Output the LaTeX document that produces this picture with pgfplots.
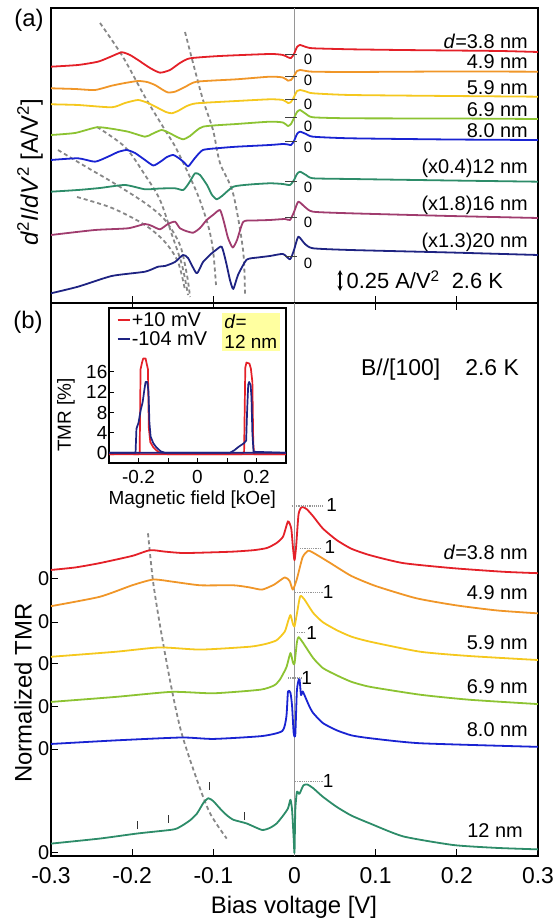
\documentclass[border=0pt]{standalone}
\usepackage{pgfplots}
\usepackage{pgfplotstable}
\pgfplotsset{compat=1.18}
\usepackage{fontspec}
\setmainfont{Liberation Sans}

\definecolor{cRed}{RGB}{228,32,40}
\definecolor{cOrange}{RGB}{240,150,40}
\definecolor{cYellow}{RGB}{245,200,30}
\definecolor{cLime}{RGB}{140,195,50}
\definecolor{cBlue}{RGB}{25,35,210}
\definecolor{cTeal}{RGB}{45,140,105}
\definecolor{cPurple}{RGB}{160,60,110}
\definecolor{cNavy}{RGB}{30,35,130}
\definecolor{cGuide}{RGB}{135,135,135}
\definecolor{cZero}{RGB}{150,150,150}
\definecolor{cBox}{RGB}{255,255,160}
\newcommand{\fs}[1]{\fontsize{#1}{#1}\selectfont}
\newcommand{\zmark}[2]{%
  \draw[black!75, line width=1bp] (axis cs:-0.0117,#1) -- (axis cs:0.0031,#1);
  \node[font=\fs{15}, inner sep=0pt] at (axis cs:0.0166,#2) {0};}
\newcommand{\onemark}[5]{%
  \draw[cZero, line width=1.2bp, densely dotted] (axis cs:#1,#3) -- (axis cs:#2,#3);
  \node[font=\fs{19}, inner sep=0pt] at (axis cs:#4,#5) {1};}
\newcommand{\pkmark}[3]{%
  \draw[black!80, line width=1.2bp] (axis cs:#1,#2) -- (axis cs:#1,#3);}

\pgfplotsset{
  panel/.style={
    scale only axis, width=487bp, xmin=-0.3, xmax=0.3,
    axis line style={line width=1.5bp},
    tick align=inside, major tick length=7bp,
    every tick/.append style={black, line width=1bp},
    clip mode=individual,
    every axis plot/.append style={line width=1.8bp, line join=round, smooth, tension=0.35},
  },
  guide/.style={cGuide, line width=1.8bp, dash pattern=on 4bp off 3bp, smooth, tension=0.5},
}

\begin{document}
% panel (b): normalized TMR, values relative to each curve's own zero
\pgfplotstableread{
x y
-0.3 0.125
-0.27 0.16
-0.24 0.22
-0.2 0.32
-0.178 0.40
-0.16 0.38
-0.137 0.36
-0.1 0.37
-0.075 0.38
-0.05 0.40
-0.034 0.43
-0.022 0.50
-0.014 0.59
-0.008 0.80
-0.004 0.70
-0.002 0.45
0 0.26
0.002 0.45
0.005 0.90
0.009 1.00
0.015 0.97
0.023 0.87
0.035 0.70
0.052 0.54
0.07 0.42
0.093 0.33
0.134 0.22
0.195 0.15
0.257 0.10
0.3 0.08
}\tbRed
\pgfplotstableread{
x y
-0.3 0.22
-0.24 0.35
-0.2 0.51
-0.174 0.59
-0.15 0.56
-0.116 0.51
-0.075 0.51
-0.055 0.48
-0.04 0.45
-0.025 0.52
-0.012 0.62
-0.006 0.57
-0.002 0.45
0.003 0.60
0.01 0.90
0.017 0.99
0.025 0.95
0.044 0.82
0.07 0.64
0.1 0.50
0.15 0.33
0.2 0.23
0.25 0.16
0.3 0.12
}\tbOrange
\pgfplotstableread{
x y
-0.3 0.10
-0.22 0.17
-0.166 0.23
-0.116 0.20
-0.055 0.24
-0.035 0.28
-0.022 0.33
-0.012 0.45
-0.008 0.59
-0.005 0.68
-0.002 0.56
0 0.52
0.003 0.70
0.007 0.94
0.012 0.90
0.023 0.71
0.035 0.58
0.052 0.47
0.07 0.38
0.093 0.31
0.155 0.17
0.216 0.11
0.3 0.055
}\tbYellow
\pgfplotstableread{
x y
-0.3 0.07
-0.22 0.14
-0.151 0.21
-0.1 0.19
-0.042 0.24
-0.025 0.30
-0.018 0.38
-0.01 0.55
-0.005 0.75
-0.002 0.62
0 0.60
0.003 0.90
0.005 0.97
0.01 0.90
0.023 0.68
0.035 0.54
0.052 0.44
0.07 0.35
0.093 0.28
0.155 0.17
0.216 0.10
0.3 0.04
}\tbLime
\pgfplotstableread{
x y
-0.3 0.07
-0.22 0.12
-0.139 0.16
-0.1 0.14
-0.04 0.18
-0.015 0.25
-0.01 0.45
-0.008 0.80
-0.005 0.78
-0.003 0.60
-0.001 0.22
0.001 0.20
0.003 0.82
0.006 0.98
0.008 0.75
0.01 0.80
0.013 0.73
0.018 0.60
0.023 0.50
0.035 0.36
0.052 0.26
0.07 0.19
0.093 0.15
0.155 0.08
0.3 0.03
}\tbBlue
\pgfplotstableread{
x y
-0.3 0.13
-0.24 0.20
-0.194 0.27
-0.153 0.32
-0.145 0.34
-0.137 0.39
-0.128 0.46
-0.12 0.55
-0.112 0.70
-0.106 0.76
-0.1 0.72
-0.092 0.62
-0.083 0.52
-0.075 0.46
-0.059 0.41
-0.04 0.32
-0.03 0.35
-0.022 0.41
-0.014 0.52
-0.008 0.62
-0.005 0.74
-0.003 0.60
-0.001 0.20
0 0.00
0.001 0.60
0.003 0.85
0.006 0.82
0.011 0.94
0.016 0.95
0.023 0.90
0.035 0.78
0.052 0.64
0.07 0.52
0.093 0.41
0.134 0.23
0.196 0.11
0.25 0.07
0.3 0.05
}\tbTeal

\begin{tikzpicture}
\path[use as bounding box] (0,0) rectangle (559bp,922bp);

% ---------------- panel (a) ----------------
\begin{axis}[panel, at={(51bp,619bp)}, anchor=south west, height=295bp,
  ymin=0, ymax=295, ytick=\empty,
  xtick={-0.2,-0.1,0.1,0.2}, xticklabels={}, xtick pos=left]
\draw[cZero, line width=1bp] (axis cs:0,0) -- (axis cs:0,295);

\addplot[guide] coordinates {(-0.2396,280)(-0.2113,246)(-0.1842,206)(-0.1596,173)(-0.1448,153)(-0.1201,110)(-0.1066,78)(-0.1004,53)(-0.0967,18)};
\addplot[guide] coordinates {(-0.1349,271)(-0.1250,240)(-0.1127,203)(-0.1004,173)(-0.0918,140)(-0.0758,110)(-0.0634,53)(-0.0610,8)};
\addplot[guide] coordinates {(-0.2433,176)(-0.2088,156)(-0.1842,128)(-0.1657,103)(-0.1509,68)(-0.1386,38)(-0.1312,8)};
\addplot[guide] coordinates {(-0.2914,153)(-0.2544,135)(-0.2248,121)(-0.1842,100)(-0.1596,83)(-0.1411,58)(-0.1325,28)(-0.1287,6)};
\addplot[guide] coordinates {(-0.2680,106)(-0.2248,95)(-0.1842,78)(-0.1596,61)(-0.1435,41)(-0.1349,13)};

\addplot[cRed] coordinates {(-0.3,236.3)(-0.2667,238)(-0.2421,241.3)(-0.2273,246)(-0.2129,250.7)(-0.2027,248)(-0.1928,243)(-0.1780,235)(-0.1657,230.3)(-0.1534,233)(-0.1411,240)(-0.1287,244.7)(-0.0917,247)(-0.0302,249)(-0.0142,248)(-0.0080,245.7)(-0.0043,245)(-0.0006,249)(0.0031,256)(0.0068,258)(0.0142,256)(0.0228,254.7)(0.0684,253.7)(0.1300,253)(0.1916,252.5)(0.2532,252)(0.3,251)};
\addplot[cOrange] coordinates {(-0.3,214.7)(-0.2704,214)(-0.2458,213)(-0.2252,217.3)(-0.2088,220)(-0.1928,222)(-0.1817,221)(-0.1719,218)(-0.1620,213)(-0.1558,210.5)(-0.1472,211.3)(-0.1349,216)(-0.1205,221.3)(-0.0712,223.7)(-0.0302,226.3)(-0.0142,225.5)(-0.0080,222.3)(-0.0043,223)(-0.0006,227)(0.0031,232)(0.0068,233)(0.0142,232)(0.0228,231.3)(0.0684,231)(0.1916,231.5)(0.3,231.3)};
\addplot[cYellow] coordinates {(-0.3,198.7)(-0.2667,198)(-0.2252,195.7)(-0.2088,200)(-0.1928,203)(-0.1805,200)(-0.1682,195)(-0.1584,191)(-0.1513,189.7)(-0.1436,192)(-0.1325,197)(-0.1205,199.7)(-0.0712,202)(-0.0302,203.7)(-0.0142,203)(-0.0080,200)(-0.0043,201)(-0.0006,206)(0.0031,212)(0.0068,213)(0.0142,211.5)(0.0228,209.7)(0.0684,208)(0.1916,207)(0.3,206.3)};
\addplot[cLime] coordinates {(-0.3,168)(-0.2704,170)(-0.2437,175.7)(-0.2273,174.5)(-0.2051,171.3)(-0.1842,166.3)(-0.1756,169)(-0.1637,173)(-0.1534,169.7)(-0.1448,166)(-0.1370,163.7)(-0.1287,167)(-0.1128,176.3)(-0.0712,179)(-0.0302,181.3)(-0.0142,180.5)(-0.0080,177)(-0.0043,179)(-0.0006,185)(0.0031,191)(0.0068,193)(0.0142,189)(0.0228,185.7)(0.0684,184.7)(0.1916,184.5)(0.3,184)};
\addplot[cBlue] coordinates {(-0.3,143)(-0.2667,144.7)(-0.2458,141.3)(-0.2298,146.3)(-0.2174,151)(-0.2068,153)(-0.1965,150)(-0.1842,143)(-0.1740,137.5)(-0.1657,141)(-0.1571,146)(-0.1493,148)(-0.1411,144)(-0.1349,139.7)(-0.1309,136.5)(-0.1226,145)(-0.1128,153)(-0.0917,155)(-0.0712,156.3)(-0.0302,158)(-0.0142,159)(-0.0080,158.5)(-0.0043,158)(-0.0006,162)(0.0031,169)(0.0068,171.3)(0.0142,169)(0.0228,166.3)(0.0684,164.7)(0.1916,163.5)(0.3,163)};
\addplot[cTeal] coordinates {(-0.3,111.3)(-0.2667,113)(-0.2396,115)(-0.2088,118)(-0.1842,113.7)(-0.1657,114.5)(-0.1472,114.7)(-0.1370,113)(-0.1300,120)(-0.1226,129.7)(-0.1164,128)(-0.1078,118)(-0.1016,108)(-0.0958,103.7)(-0.0893,107)(-0.0754,116.3)(-0.0548,118.5)(-0.0302,119.7)(-0.0142,119)(-0.0055,118)(-0.0006,123)(0.0031,129)(0.0068,131.3)(0.0142,128)(0.0228,124.7)(0.0684,124)(0.1916,122.5)(0.3,121.3)};
\addplot[cPurple] coordinates {(-0.3,68)(-0.2458,73)(-0.2051,74.7)(-0.1842,79)(-0.1756,77)(-0.1657,73.7)(-0.1559,79)(-0.1472,81.3)(-0.1411,74.7)(-0.1337,72)(-0.1247,70.3)(-0.1164,75)(-0.1082,83)(-0.1004,88)(-0.0918,93)(-0.0869,81)(-0.0819,65)(-0.0761,55.5)(-0.0708,63)(-0.0630,81.3)(-0.0487,82.5)(-0.0302,83)(-0.0117,84)(-0.0055,83)(-0.0006,91)(0.0047,101.3)(0.0129,96)(0.0228,91.3)(0.0684,89.7)(0.1916,87)(0.3,85)};
\addplot[cNavy] coordinates {(-0.3,9.7)(-0.2667,16.3)(-0.2252,27)(-0.1842,31.3)(-0.1682,36.3)(-0.1596,37)(-0.1472,41)(-0.1374,48)(-0.1312,45)(-0.1205,29.7)(-0.1127,41)(-0.1020,49.7)(-0.0967,53)(-0.0897,56.3)(-0.0844,41)(-0.0795,23)(-0.0754,14)(-0.0696,28)(-0.0589,43.3)(-0.0450,45.5)(-0.0302,47)(-0.0142,49)(-0.0055,43.7)(-0.0006,53)(0.0047,66.3)(0.0129,59)(0.0228,54.7)(0.0684,53)(0.1916,50.5)(0.3,48)};

% zero marks
\zmark{248}{243.7}
\zmark{226.5}{223}
\zmark{203.7}{198.7}
\zmark{185}{177}
\zmark{161.3}{155.3}
\zmark{121.3}{115.3}
\zmark{85}{80.3}
\zmark{46.3}{39.7}
% curve labels
\begin{scope}[every node/.style={font=\fs{20}, anchor=east, inner sep=0pt}]
\node at (axis cs:0.2877,261.3) {\textit{d}=3.8 nm};
\node at (axis cs:0.2877,241.3) {4.9 nm};
\node at (axis cs:0.2877,215.7) {5.9 nm};
\node at (axis cs:0.2877,193.7) {6.9 nm};
\node at (axis cs:0.2877,172) {8.0 nm};
\node at (axis cs:0.2877,134.7) {(x0.4)12 nm};
\node at (axis cs:0.2877,98) {(x1.8)16 nm};
\node at (axis cs:0.2877,60.3) {(x1.3)20 nm};
\end{scope}
\draw[black, line width=1.3bp, <->, >=stealth] (axis cs:0.0561,33) -- (axis cs:0.0561,12);
\node[font=\fs{22}, anchor=west, inner sep=0pt] at (axis cs:0.0640,23) {0.25 A/V\textsuperscript{2}\hspace{0.55em}2.6 K};
\end{axis}

% ---------------- panel (b) ----------------
\begin{axis}[panel, at={(51bp,66bp)}, anchor=south west, height=553bp,
  ymin=-0.042, ymax=7.639,
  xtick={-0.3,-0.2,-0.1,0,0.1,0.2,0.3},
  xticklabels={-0.3,-0.2,-0.1,0,0.1,0.2,0.3}, xtick pos=both,
  ytick={0,1.444,2.028,2.625,3.208,3.806}, yticklabels={0,0,0,0,0,0}, ytick pos=left,
  ticklabel style={font=\fs{23}},
  yticklabel style={font=\fs{20}, inner sep=1.5bp},
  xticklabel style={inner sep=2bp, yshift=-9bp}]
\draw[cZero, line width=1bp] (axis cs:0,-0.042) -- (axis cs:0,7.639);
\addplot[guide] coordinates {(-0.1805,4.44)(-0.174,3.75)(-0.164,3.05)(-0.151,2.26)(-0.139,1.66)(-0.120,1.01)(-0.104,0.55)(-0.0835,0.2)};

\addplot[cRed] table[x=x, y expr=\thisrow{y}+3.806] {\tbRed};
\addplot[cOrange] table[x=x, y expr=\thisrow{y}+3.208] {\tbOrange};
\addplot[cYellow] table[x=x, y expr=\thisrow{y}+2.625] {\tbYellow};
\addplot[cLime] table[x=x, y expr=\thisrow{y}+2.028] {\tbLime};
\addplot[cBlue] table[x=x, y expr=\thisrow{y}+1.444] {\tbBlue};
\addplot[cTeal] table[x=x, y expr=\thisrow{y}] {\tbTeal};

% level "1" markers
\onemark{-0.0034}{0.0351}{4.82}{0.0458}{4.84}
\onemark{0.0068}{0.0335}{4.23}{0.0437}{4.25}
\onemark{0.0006}{0.0351}{3.615}{0.0413}{3.63}
\onemark{0.003}{0.013}{3.06}{0.0212}{3.06}
\onemark{-0.008}{0.009}{2.43}{0.015}{2.43}
\onemark{0.0006}{0.0351}{0.99}{0.0413}{1.0}
% small peak marks on 12 nm curve
\pkmark{-0.193}{0.33}{0.44}
\pkmark{-0.155}{0.42}{0.53}
\pkmark{-0.105}{0.88}{0.98}
\pkmark{-0.062}{0.46}{0.57}
\begin{scope}[every node/.style={font=\fs{20}, anchor=east, inner sep=0pt}]
\node at (axis cs:0.2877,4.17) {\textit{d}=3.8 nm};
\node at (axis cs:0.2877,3.61) {4.9 nm};
\node at (axis cs:0.2877,2.92) {5.9 nm};
\node at (axis cs:0.2877,2.31) {6.9 nm};
\node at (axis cs:0.2877,1.71) {8.0 nm};
\node at (axis cs:0.2815,0.31) {12 nm};
\end{scope}
\node[font=\fs{23}, inner sep=0pt] at (axis cs:0.1793,6.71) {B//[100]\hspace{1.1em}2.6 K};
\end{axis}

% ---------------- inset ----------------
\begin{axis}[scale only axis, at={(109bp,459bp)}, anchor=south west,
  width=177bp, height=155bp,
  xmin=-0.3, xmax=0.3, ymin=-1.9, ymax=28.5,
  axis background/.style={fill=white},
  axis line style={line width=1.3bp},
  tick align=inside, major tick length=5bp,
  every tick/.append style={black, line width=0.9bp},
  xtick={-0.2,-0.1,0,0.1,0.2}, xticklabels={-0.2,,0,,0.2}, xtick pos=left,
  ytick={0,4,8,12,16}, yticklabels={0,4,8,12,16}, ytick pos=left,
  ticklabel style={font=\fs{19}, inner sep=1.5bp},
  xticklabel style={yshift=-6bp},
  xlabel={Magnetic field [kOe]}, ylabel={TMR [\%]},
  label style={font=\fs{19}},
  xlabel style={at={(axis description cs:0.47,0)}, anchor=center, yshift=-37bp},
  ylabel style={at={(axis description cs:-0.243,0.31)}, anchor=center},
  every axis plot/.append style={line width=1.7bp, line join=round},
  legend style={at={(axis cs:-0.275,27.9)}, anchor=north west, draw=none, fill=none,
    font=\fs{20}, inner sep=0pt, row sep=1.5bp,
    nodes={inner sep=1.2bp}},
  legend cell align=left,
  legend image code/.code={\draw[#1, line width=2bp] (0bp,0bp) -- (12bp,0bp);},
  clip mode=individual]
\addplot[cRed] coordinates {(-0.3,-0.2)(-0.25,-0.1)(-0.2,-0.2)(-0.196,0.3)(-0.193,16.5)(-0.188,17.8)(-0.184,18.6)(-0.176,18.6)(-0.172,17.5)(-0.168,16.5)(-0.165,5)(-0.16,2.2)(-0.15,1.2)(-0.14,0.6)(-0.13,0.2)(-0.1,-0.2)(0,-0.2)(0.1,-0.2)(0.2,-0.2)(0.3,-0.2)};
\addlegendentry{+10 mV}
\addplot[cRed, forget plot] coordinates {(-0.3,-0.2)(0,-0.2)(0.15,-0.2)(0.158,0.3)(0.162,16.8)(0.166,17.8)(0.176,17.6)(0.181,16.6)(0.186,14)(0.189,2)(0.192,-0.2)(0.3,-0.2)};
\addplot[cNavy] coordinates {(-0.3,0.1)(-0.21,0.1)(-0.207,4.8)(-0.2,6)(-0.192,8.6)(-0.186,10)(-0.18,12.5)(-0.176,14)(-0.17,14)(-0.166,12)(-0.163,6)(-0.159,3.3)(-0.15,2)(-0.14,1.2)(-0.125,0.4)(-0.11,0.1)(0,0.1)(0.3,0.1)};
\addlegendentry{-104 mV}
\addplot[cNavy, forget plot] coordinates {(-0.3,0.1)(0,0.1)(0.11,0.1)(0.125,0.6)(0.14,1.3)(0.158,2)(0.165,2.5)(0.168,8)(0.172,13.5)(0.175,14)(0.18,13.4)(0.183,11)(0.186,4)(0.19,0.3)(0.3,0.1)};
\node[fill=cBox, align=left, font=\fs{19}, inner sep=2.5bp, anchor=north east] at (axis cs:0.279,27.6) {\textit{d}=\\[1pt]12 nm};
\end{axis}

% outer labels
\node[font=\fs{24}] at (29bp,902bp) {(a)};
\node[font=\fs{24}] at (28bp,600bp) {(b)};
\node[font=\fs{24}, rotate=90] at (30bp,750bp) {\textit{d}\textsuperscript{2}\textit{I}/\textit{dV}\textsuperscript{2} [A/V\textsuperscript{2}]};
\node[font=\fs{24}, rotate=90] at (23bp,229bp) {Normalized TMR};
\node[font=\fs{24}] at (294bp,15bp) {Bias voltage [V]};
\end{tikzpicture}
\end{document}
